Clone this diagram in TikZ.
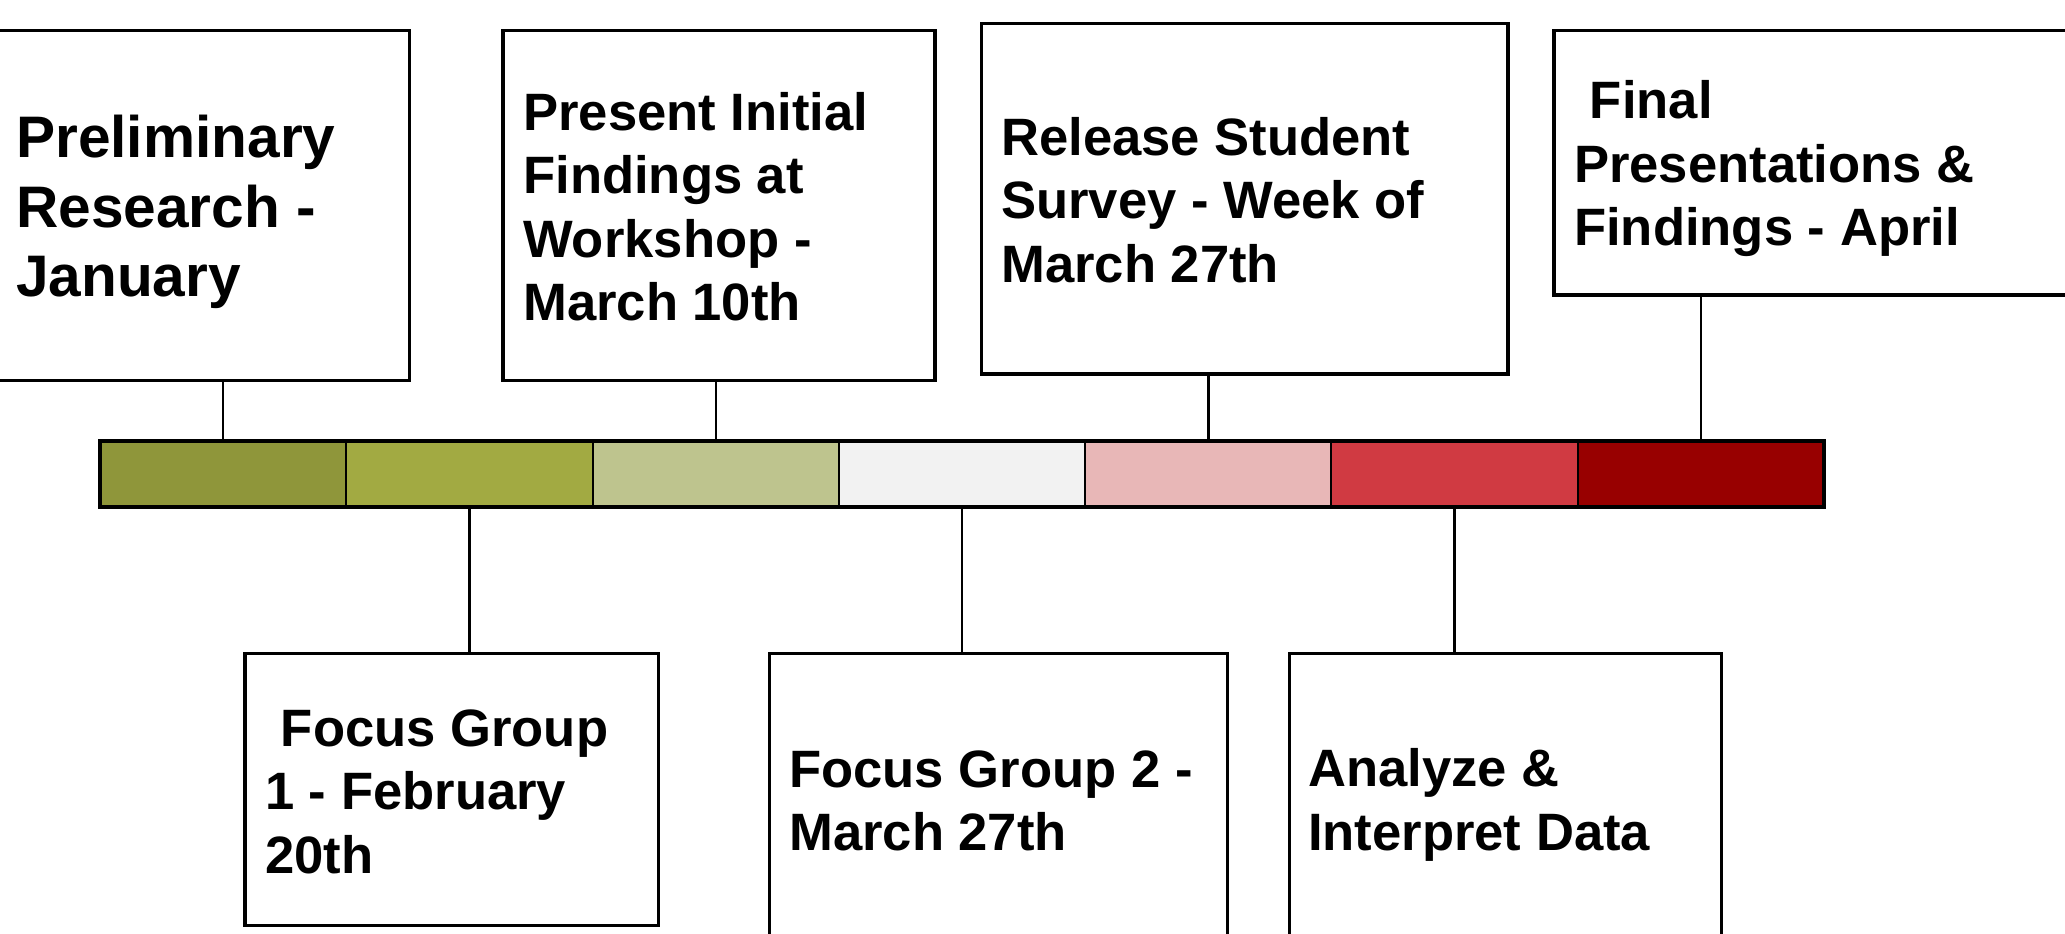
\documentclass[tikz,border=0pt]{standalone}
\usepackage{fontspec}
\setmainfont{Liberation Sans}
\usetikzlibrary{fit}
\definecolor{segA}{HTML}{8F963A}
\definecolor{segB}{HTML}{A2AA42}
\definecolor{segC}{HTML}{BEC48E}
\definecolor{segD}{HTML}{F2F2F2}
\definecolor{segE}{HTML}{E8B7B7}
\definecolor{segF}{HTML}{D03A42}
\definecolor{segG}{HTML}{980000}
\tikzset{
  evbox/.style={draw=black, line width=1.6pt, fill=white, inner sep=0pt, rectangle},
  seg/.style={draw=black, line width=1pt, inner sep=0pt, rectangle},
  barframe/.style={draw=black, line width=2pt, inner sep=0pt, rectangle},
  conn/.style={draw=black, line width=1.2pt},
  lbl/.style={align=left, inner sep=0pt, anchor=west, font=\bfseries\fontsize{26.3pt}{31.8pt}\selectfont},
  biglbl/.style={lbl, font=\bfseries\fontsize{29.3pt}{34.9pt}\selectfont}
}
\begin{document}
\begin{tikzpicture}[x=0.6585pt, y=-0.6585pt]
\useasboundingbox (0,0) rectangle (1568,709);
\fill[white] (0,0) rectangle (1568,709);
\clip (0,0) rectangle (1568,709);
% timeline segments
\node[seg, fill=segA, fit={(76,335) (263,385)}] (s1) {};
\node[seg, fill=segB, fit={(263,335) (450,385)}] (s2) {};
\node[seg, fill=segC, fit={(450,335) (637,385)}] (s3) {};
\node[seg, fill=segD, fit={(637,335) (824,385)}] (s4) {};
\node[seg, fill=segE, fit={(824,335) (1011,385)}] (s5) {};
\node[seg, fill=segF, fit={(1011,335) (1198,385)}] (s6) {};
\node[seg, fill=segG, fit={(1198,335) (1385,385)}] (s7) {};
\node[barframe, fit={(76,335) (1385,385)}] (bar) {};
% event boxes
\node[evbox, fit={(-3,23) (311,289)}] (b1) {};
\node[evbox, fit={(382,23) (710,289)}] (b2) {};
\node[evbox, fit={(745,18) (1145,284)}] (b3) {};
\node[evbox, fit={(1180,23) (1580,224)}] (b4) {};
\node[evbox, fit={(186,496) (500,703)}] (b5) {};
\node[evbox, fit={(584,496) (932,720)}] (b6) {};
\node[evbox, fit={(979,496) (1307,720)}] (b7) {};
% labels
\node[biglbl] (t1) at (12,161) {Preliminary\\Research -\\January};
\node[lbl] (t2) at (397,157) {Present Initial\\Findings at\\Workshop -\\March 10th};
\node[lbl] (t3) at (760,152) {Release Student\\Survey - Week of\\March 27th};
\node[lbl] (t4) at (1195,128) {\hspace*{.3em}Final\\Presentations \&\\Findings - April};
\node[lbl] (t5) at (201,601) {\hspace*{.3em}Focus Group\\1 - February\\20th};
\node[lbl] (t6) at (599,608) {Focus Group 2 -\\March 27th};
\node[lbl] (t7) at (993,611) {Analyze \&\\Interpret Data};
% connectors
\draw[conn] (s1.north) -- (s1.north |- b1.south);
\draw[conn] (s3.north) -- (s3.north |- b2.south);
\draw[conn] (s5.north) -- (s5.north |- b3.south);
\draw[conn] (s7.north) -- (s7.north |- b4.south);
\draw[conn] (s2.south) -- (s2.south |- b5.north);
\draw[conn] (s4.south) -- (s4.south |- b6.north);
\draw[conn] (s6.south) -- (s6.south |- b7.north);
\end{tikzpicture}
\end{document}
